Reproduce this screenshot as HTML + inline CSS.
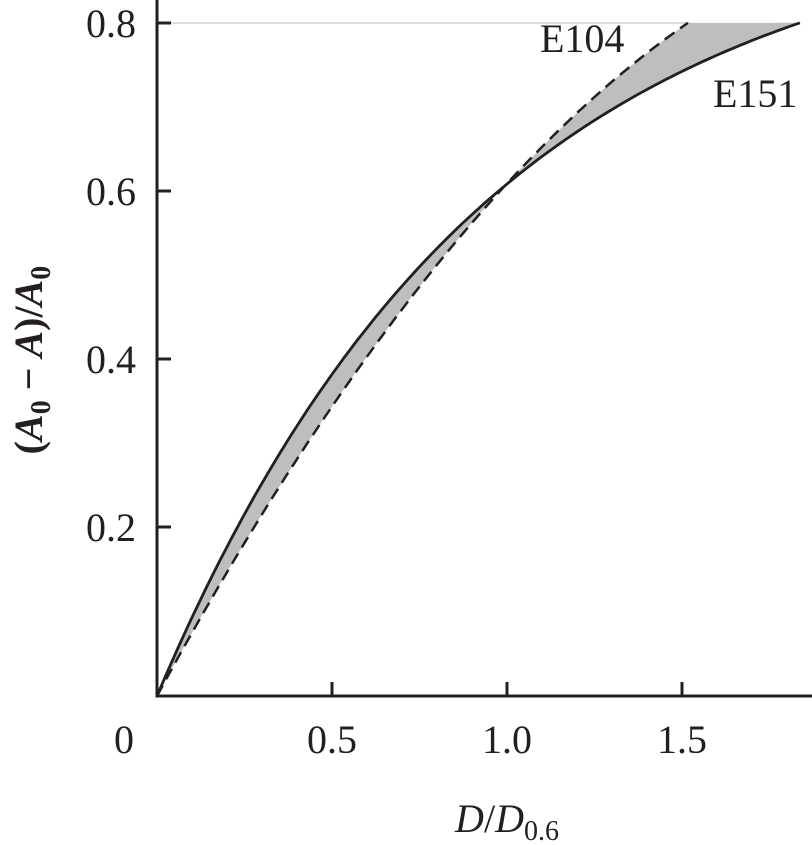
<!DOCTYPE html>
<html><head><style>
body{margin:0;background:#fff}
svg{display:block}
text{font-family:"Liberation Serif",serif;fill:#231f20}
</style></head><body>
<svg id="s" width="812" height="845" viewBox="0 0 812 845" xmlns="http://www.w3.org/2000/svg">
<line x1="157" y1="23" x2="690" y2="23" stroke="#d0d0d0" stroke-width="1.5"/>
<path id="fill" fill="#bdbebf" stroke="none"/>
<path id="dash" fill="none" stroke="#231f20" stroke-width="2.5" stroke-dasharray="12,7"/>
<path id="solid" fill="none" stroke="#231f20" stroke-width="2.8"/>
<g stroke="#231f20" stroke-width="3">
<line x1="157" y1="0" x2="157" y2="697"/>
<line x1="155.5" y1="696" x2="812" y2="696"/>
<line x1="157" y1="23" x2="171" y2="23"/>
<line x1="157" y1="191" x2="171" y2="191"/>
<line x1="157" y1="359" x2="171" y2="359"/>
<line x1="157" y1="527" x2="171" y2="527"/>
<line x1="332" y1="696" x2="332" y2="682"/>
<line x1="507" y1="696" x2="507" y2="682"/>
<line x1="682" y1="696" x2="682" y2="682"/>
</g>
<g font-size="40" text-anchor="end">
<text x="136" y="37">0.8</text>
<text x="136" y="205">0.6</text>
<text x="136" y="373">0.4</text>
<text x="136" y="541">0.2</text>
</g>
<g font-size="40" text-anchor="middle">
<text x="124" y="753">0</text>
<text x="332" y="753">0.5</text>
<text x="507" y="753">1.0</text>
<text x="682" y="753">1.5</text>
</g>
<text x="540" y="52" font-size="40">E104</text>
<text x="713" y="107" font-size="40">E151</text>
<text x="507" y="832" font-size="40" text-anchor="middle"><tspan font-style="italic">D</tspan>/<tspan font-style="italic">D</tspan><tspan font-size="28" dy="8">0.6</tspan></text>
<text transform="translate(42,360) rotate(-90)" font-size="40" text-anchor="middle" font-weight="bold">(<tspan font-style="italic">A</tspan><tspan font-size="28" dy="8">0</tspan><tspan dy="-8"> − </tspan><tspan font-style="italic">A</tspan>)/<tspan font-style="italic">A</tspan><tspan font-size="28" dy="8">0</tspan></text>
</svg>
<script>
function X(x){return 157+350*x}
function Y(y){return 696-841.5*y}
function s(x){return 0.936*(1-Math.exp(-1.05*x))}
function d(x){return 0.7671*x-0.1581*x*x}
var xs=1.837,xd=1.517,n=120,ps=[],pd=[];
for(var i=0;i<=n;i++){var x=xs*i/n;ps.push(X(x).toFixed(1)+","+Y(s(x)).toFixed(1));}
for(var i=0;i<=n;i++){var x=xd*i/n;pd.push(X(x).toFixed(1)+","+Y(d(x)).toFixed(1));}
document.getElementById("solid").setAttribute("d","M"+ps.join(" L"));
document.getElementById("dash").setAttribute("d","M"+pd.join(" L"));
document.getElementById("fill").setAttribute("d","M"+pd.join(" L")+" L"+ps.slice().reverse().join(" L")+"Z");
</script>
</body></html>
